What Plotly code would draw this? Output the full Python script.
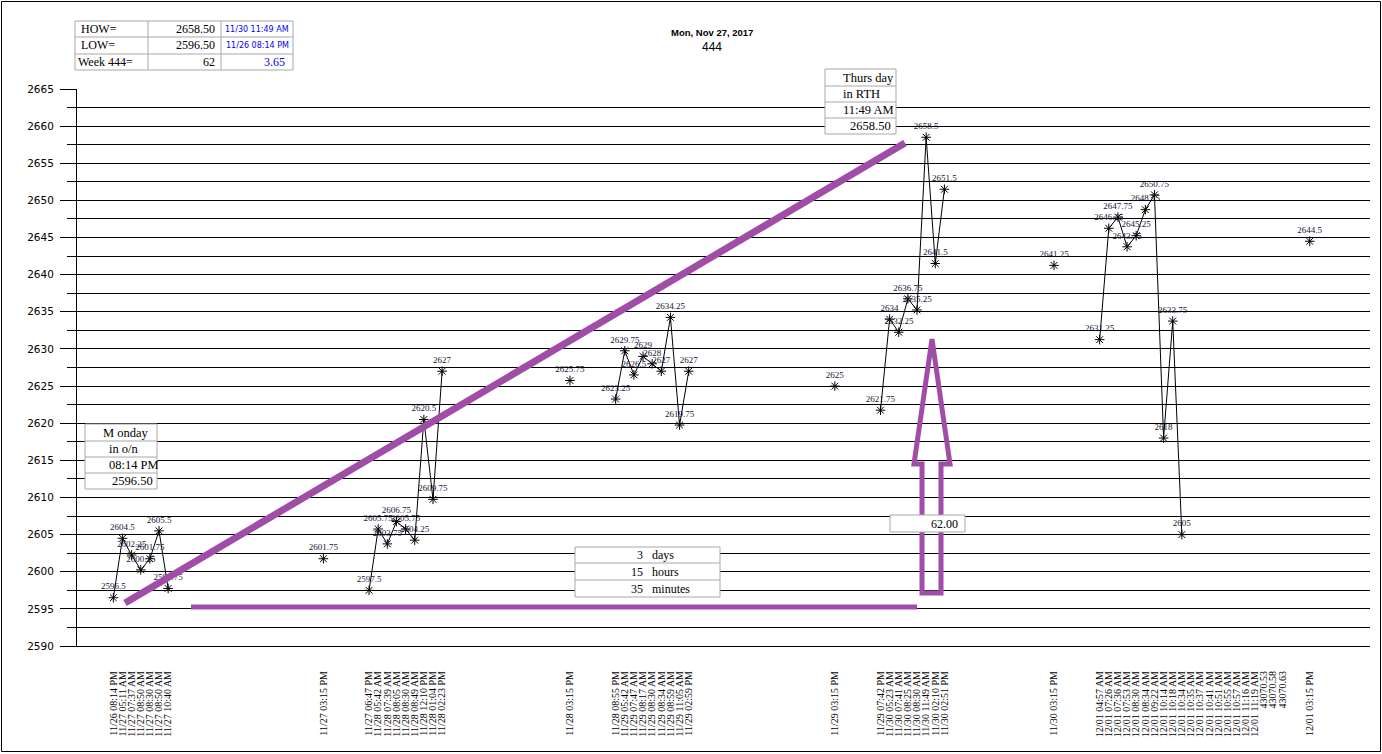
import plotly.graph_objects as go

# ---------------- data ----------------
g1_labels = ["11/26 08:14 PM", "11/27 05:11 AM", "11/27 07:37 AM", "11/27 08:50 AM",
             "11/27 08:30 AM", "11/27 08:50 AM", "11/27 10:40 AM"]
g1_prices = [2596.5, 2604.5, 2602.25, 2600.25, 2601.75, 2605.5, 2597.75]

g3_labels = ["11/27 06:47 PM", "11/28 05:42 AM", "11/28 07:39 AM", "11/28 08:05 AM",
             "11/28 08:30 AM", "11/28 08:49 AM", "11/28 12:10 PM", "11/28 01:04 PM",
             "11/28 02:23 PM"]
g3_prices = [2597.5, 2605.75, 2603.75, 2606.75, 2605.75, 2604.25, 2620.5, 2609.75, 2627]

g5_labels = ["11/28 08:55 PM", "11/29 05:42 AM", "11/29 07:47 AM", "11/29 08:17 AM",
             "11/29 08:30 AM", "11/29 08:34 AM", "11/29 08:59 AM", "11/29 11:05 AM",
             "11/29 02:59 PM"]
g5_prices = [2623.25, 2629.75, 2626.5, 2629, 2628, 2627, 2634.25, 2619.75, 2627]

g7_labels = ["11/29 07:42 PM", "11/30 05:23 AM", "11/30 07:41 AM", "11/30 08:25 AM",
             "11/30 08:30 AM", "11/30 11:49 AM", "11/30 02:10 PM", "11/30 02:51 PM"]
g7_prices = [2621.75, 2634, 2632.25, 2636.75, 2635.25, 2658.5, 2641.5, 2651.5]

g9_labels = ["12/01 04:57 AM", "12/01 07:26 AM", "12/01 07:36 AM", "12/01 07:53 AM",
             "12/01 08:30 AM", "12/01 08:34 AM", "12/01 09:22 AM", "12/01 10:14 AM",
             "12/01 10:18 AM", "12/01 10:34 AM", "12/01 10:35 AM", "12/01 10:37 AM",
             "12/01 10:41 AM", "12/01 10:51 AM", "12/01 10:55 AM", "12/01 10:57 AM",
             "12/01 11:16 AM", "12/01 11:19 AM", "43070.53", "43070.58", "43070.63"]
g9_prices = [2631.25, 2646.25, 2647.75, 2643.75, 2645.25, 2648.75, 2650.75, 2618,
             2633.75, 2605] + [None] * 11

close_labels = ["11/27 03:15 PM", "11/28 03:15 PM", "11/29 03:15 PM",
                "11/30 03:15 PM", "12/01 03:15 PM"]
close_prices = [2601.75, 2625.75, 2625, 2641.25, 2644.5]

# blank category slots between the groups (Excel rows without data)
gap_before_close = [16, 13, 15, 11, 2]
gap_after_close = 4

groups = [(g1_labels, g1_prices), (g3_labels, g3_prices), (g5_labels, g5_prices),
          (g7_labels, g7_prices), (g9_labels, g9_prices)]

labels, prices = [], []
for i, (gl, gp) in enumerate(groups):
    labels += gl
    prices += gp
    labels += [""] * gap_before_close[i]
    prices += [None] * gap_before_close[i]
    labels.append(close_labels[i])
    prices.append(close_prices[i])
    if i < len(groups) - 1:
        labels += [""] * gap_after_close
        prices += [None] * gap_after_close

xs = list(range(len(labels)))
texts = ["" if v is None else f"{v:g}" for v in prices]
tickvals = [i for i, l in enumerate(labels) if l]
ticktext = [l for l in labels if l]

# ---------------- layout helpers ----------------
W, H = 1382, 754
ML, MR, MT, MB = 77, 12, 89, 108
PW, PH = W - ML - MR, H - MT - MB


def px(x):
    return (x - ML) / PW


def py(y):
    return 1 - (y - MT) / PH


PURPLE = "#A04DA8"
GRAY = "#A8A8A8"
SERIF = "Liberation Serif"

fig = go.Figure()
fig.add_trace(go.Scatter(
    x=xs, y=prices, text=texts, mode="lines+markers+text",
    connectgaps=False,
    line=dict(color="black", width=1),
    marker=dict(symbol="asterisk-open", size=8, color="black",
                line=dict(color="black", width=1)),
    textposition="top center",
    textfont=dict(family=SERIF, size=9, color="#141432"),
    hoverinfo="skip",
))

shapes = []
annotations = []


def line(x0, y0, x1, y1, color=GRAY, width=1):
    shapes.append(dict(type="line", xref="paper", yref="paper",
                       x0=px(x0), y0=py(y0), x1=px(x1), y1=py(y1),
                       line=dict(color=color, width=width), layer="above"))


def rect(x0, y0, x1, y1, color=GRAY, width=1, fill="white"):
    shapes.append(dict(type="rect", xref="paper", yref="paper",
                       x0=px(x0), y0=py(y0), x1=px(x1), y1=py(y1),
                       line=dict(color=color, width=width), fillcolor=fill,
                       layer="above"))


def text(x, y, s, anchor="left", size=12, family=SERIF, color="black", bold=False):
    if bold:
        s = "<b>" + s + "</b>"
    annotations.append(dict(xref="paper", yref="paper", x=px(x), y=py(y), text=s,
                            showarrow=False, xanchor=anchor, yanchor="middle",
                            font=dict(family=family, size=size, color=color)))


# figure border
rect(1.5, 1.5, 1380.5, 751.5, color="black", fill="rgba(0,0,0,0)")

# top-left table
rect(75, 21, 293, 70)
for xv in (148, 221):
    line(xv, 21, xv, 70)
for yv in (37, 54):
    line(75, yv, 293, yv)
text(79, 29, "HOW=")
text(79, 45.5, "LOW=")
text(76, 62, "Week 444=")
text(217, 29, "2658.50", anchor="right")
text(217, 45.5, "2596.50", anchor="right")
text(217, 62, "62", anchor="right")
text(291, 29, "11/30 11:49 AM", anchor="right", size=8, family="DejaVu Sans", color="#0000FF")
text(291, 45.5, "11/26 08:14 PM", anchor="right", size=8, family="DejaVu Sans", color="#0000FF")
text(287, 62, "3.65", anchor="right", color="#0000FF")

# title
text(712, 32, "Mon, Nov 27, 2017", anchor="center", size=9.5, family="Liberation Sans", bold=True)
text(712, 47, "444", anchor="center", size=12, family="Liberation Sans")

# purple trend lines
line(125, 603, 905, 143, color=PURPLE, width=7)
line(191, 607, 917, 607, color=PURPLE, width=5)

# hollow arrow
pts = [(922, 593), (941, 593), (941, 464), (950, 464), (932, 339), (914, 464), (922, 464)]
path = "M " + " L ".join(f"{px(a):.5f},{py(b):.5f}" for a, b in pts) + " Z"
shapes.append(dict(type="path", xref="paper", yref="paper", path=path,
                   line=dict(color=PURPLE, width=5), fillcolor="rgba(0,0,0,0)",
                   layer="above"))

# Thursday box
rect(825, 69, 896, 134)
for yv in (86, 102, 118):
    line(825, yv, 896, yv)
text(841, 78, "Thurs day", size=12.5)
text(841, 94, "in RTH", size=12.5)
text(841, 110, "11:49 AM", size=12.5)
text(893, 126, "2658.50", anchor="right", size=12.5)

# Monday box
rect(85, 424, 157, 489)
for yv in (441, 457, 473):
    line(85, yv, 157, yv)
text(101, 433, "M onday", size=12.5)
text(107, 449, "in o/n", size=12.5)
text(107, 465, "08:14 PM", size=12.5)
text(155, 481, "2596.50", anchor="right", size=12.5)

# duration box
rect(575, 547, 720, 597)
for yv in (563, 580):
    line(575, yv, 720, yv)
text(645, 555, "3", anchor="right")
text(650, 555, "days")
text(645, 571.5, "15", anchor="right")
text(650, 571.5, "hours")
text(645, 588.5, "35", anchor="right")
text(650, 588.5, "minutes")

# range box
rect(890, 515, 965, 532)
text(960, 523.5, "62.00", anchor="right")

fig.update_layout(
    width=W, height=H,
    margin=dict(l=ML, r=MR, t=MT, b=MB, pad=0),
    paper_bgcolor="white", plot_bgcolor="white",
    showlegend=False,
    shapes=shapes, annotations=annotations,
    xaxis=dict(range=[-3.98, 137.6], showgrid=False, zeroline=False,
               showline=True, linecolor="black", linewidth=1,
               tickmode="array", tickvals=tickvals, ticktext=ticktext,
               tickangle=-90, ticks="", ticklabelstandoff=20,
               tickfont=dict(family=SERIF, size=10, color="black")),
    yaxis=dict(range=[2590, 2665], tick0=2590, dtick=5, showgrid=True,
               gridcolor="black", gridwidth=1, zeroline=False,
               showline=True, linecolor="black", linewidth=1,
               ticks="outside", ticklen=16, tickcolor="black", tickwidth=1,
               ticklabelstandoff=4,
               tickfont=dict(family="DejaVu Sans", size=10.5, color="black"),
               minor=dict(dtick=2.5, tick0=2590, ticks="outside", ticklen=9,
                          tickcolor="black", showgrid=True, gridcolor="black",
                          gridwidth=1)),
)

fig.write_html("out.html", config={"displayModeBar": False},
               post_script="document.body.style.margin='0';document.body.style.overflow='hidden';")
